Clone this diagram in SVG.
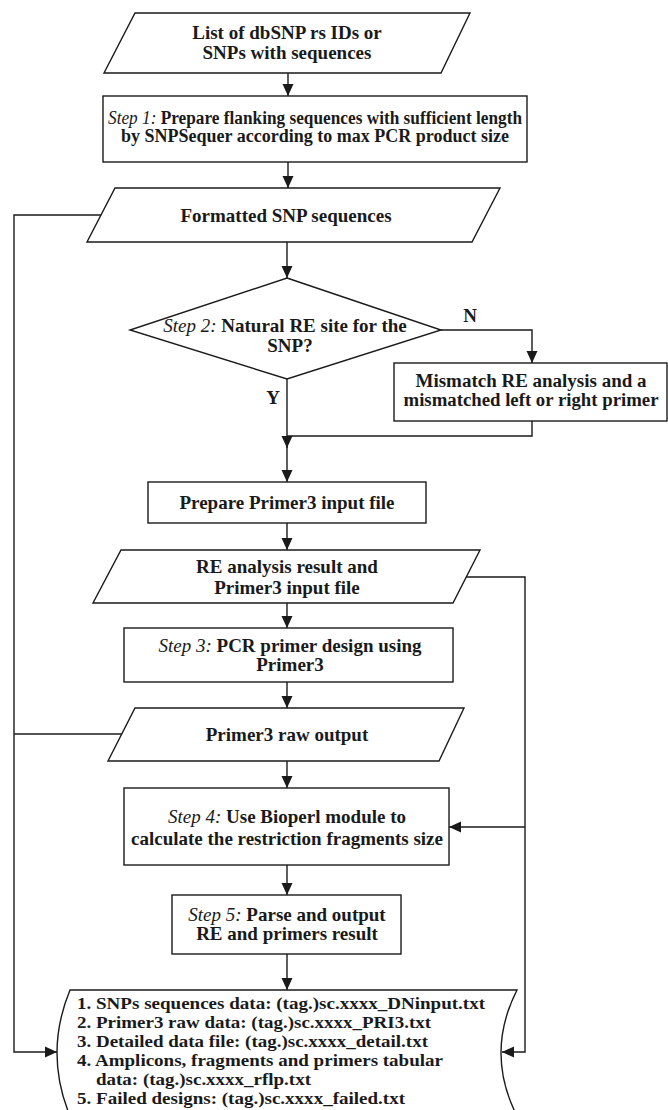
<svg xmlns="http://www.w3.org/2000/svg" width="668" height="1110" viewBox="0 0 668 1110">
<defs>
<marker id="ah" markerUnits="userSpaceOnUse" markerWidth="12" markerHeight="14" viewBox="0 0 12 14" refX="12" refY="7" orient="auto">
<path d="M0,1.5 L12,7 L0,12.5 Z" fill="#1a1a1a"/>
</marker>
<style>
.s{fill:#fff;stroke:#1a1a1a;stroke-width:1.4}
.c{fill:none;stroke:#1a1a1a;stroke-width:1.4}
.a{marker-end:url(#ah)}
text{font-family:"Liberation Serif","Times New Roman",serif;font-weight:bold;font-size:19px;fill:#1a1a1a}
.m{text-anchor:middle}
.i{font-style:italic;font-weight:normal}
.t1{font-size:18px}
.sm{font-size:17px}
</style>
</defs>
<rect width="668" height="1110" fill="#fff"/>
<g id="connectors">
<path class="c a" d="M288,73 V96"/>
<path class="c a" d="M288,162 V188"/>
<path class="c a" d="M287,242 V278"/>
<path class="c a" d="M441,330 H532 V363"/>
<path class="c a" d="M287,379 V448"/>
<path class="c" d="M532,421 V436 H287"/>
<path class="c a" d="M287,446 V482"/>
<path class="c a" d="M287,523 V550"/>
<path class="c a" d="M287,603 V628"/>
<path class="c a" d="M287,682 V708"/>
<path class="c a" d="M287,761 V788"/>
<path class="c a" d="M287,865 V895"/>
<path class="c a" d="M287,954 V990"/>
<path class="c a" d="M101,215 H14 V1052 H57"/>
<path class="c" d="M122,734 H14"/>
<path class="c a" d="M466,577 H525 V1052 H502"/>
<path class="c a" d="M525,827 H449"/>
</g>
<g id="n-input">
<polygon class="s" points="135,13 470,13 441,73 104,73"/>
<text class="m" x="287" y="39">List of dbSNP rs IDs or</text>
<text class="m" x="287" y="59">SNPs with sequences</text>
</g>
<g id="n-step1">
<rect class="s" x="103" y="96" width="424" height="66"/>
<text class="m t1" x="315" y="124" textLength="414" lengthAdjust="spacingAndGlyphs"><tspan class="i">Step 1:</tspan>  Prepare flanking sequences with sufficient length</text>
<text class="m t1" x="315" y="142">by SNPSequer according to max PCR product size</text>
</g>
<g id="n-formatted">
<polygon class="s" points="115,188 500,188 472,242 87,242"/>
<text class="m" x="286" y="222">Formatted SNP sequences</text>
</g>
<g id="n-step2">
<polygon class="s" points="287,278 441,330 287,379 130,330"/>
<text class="m" x="285" y="332"><tspan class="i">Step 2:</tspan> Natural RE  site for the</text>
<text class="m" x="290" y="352">SNP?</text>
<text class="m" x="470" y="322">N</text>
<text class="m" x="273" y="404">Y</text>
</g>
<g id="n-mismatch">
<rect class="s" x="394" y="363" width="273" height="58"/>
<text class="m t1" x="531" y="387" textLength="231" lengthAdjust="spacingAndGlyphs">Mismatch RE analysis and a</text>
<text class="m t1" x="531" y="406" textLength="255" lengthAdjust="spacingAndGlyphs">mismatched left or right primer</text>
</g>
<g id="n-prepare">
<rect class="s" x="148" y="482" width="278" height="41"/>
<text class="m" x="287" y="509">Prepare Primer3 input file</text>
</g>
<g id="n-re">
<polygon class="s" points="121,550 480,550 453,603 93,603"/>
<text class="m" x="287" y="573">RE analysis result and</text>
<text class="m" x="287" y="594">Primer3 input file</text>
</g>
<g id="n-step3">
<rect class="s" x="124" y="628" width="329" height="54"/>
<text class="m" x="290" y="652"><tspan class="i">Step 3:</tspan> PCR primer design  using</text>
<text class="m" x="290" y="671">Primer3</text>
</g>
<g id="n-raw">
<polygon class="s" points="135,708 464,708 439,761 108,761"/>
<text class="m" x="287" y="741">Primer3 raw output</text>
</g>
<g id="n-step4">
<rect class="s" x="124" y="788" width="325" height="77"/>
<text class="m" x="287" y="823"><tspan class="i">Step 4:</tspan> Use Bioperl module to</text>
<text class="m" x="287" y="845">calculate the restriction fragments size</text>
</g>
<g id="n-step5">
<rect class="s" x="172" y="895" width="229" height="59"/>
<text class="m" x="287" y="921"><tspan class="i">Step 5:</tspan> Parse and output</text>
<text class="m" x="287" y="940">RE and primers result</text>
</g>
<g id="n-output">
<path class="s" d="M70,990 H517 Q485,1053 517,1116 H70 Q44,1053 70,990 Z"/>
<text class="sm" x="77" y="1009" textLength="408" lengthAdjust="spacingAndGlyphs">1. SNPs sequences data: (tag.)sc.xxxx_DNinput.txt</text>
<text class="sm" x="77" y="1028" textLength="354" lengthAdjust="spacingAndGlyphs">2. Primer3 raw data: (tag.)sc.xxxx_PRI3.txt</text>
<text class="sm" x="77" y="1047" textLength="351" lengthAdjust="spacingAndGlyphs">3. Detailed data file: (tag.)sc.xxxx_detail.txt</text>
<text class="sm" x="77" y="1066" textLength="366" lengthAdjust="spacingAndGlyphs">4. Amplicons, fragments and primers tabular</text>
<text class="sm" x="96" y="1085" textLength="215" lengthAdjust="spacingAndGlyphs">data: (tag.)sc.xxxx_rflp.txt</text>
<text class="sm" x="77" y="1104" textLength="328" lengthAdjust="spacingAndGlyphs">5. Failed designs: (tag.)sc.xxxx_failed.txt</text>
</g>
</svg>
